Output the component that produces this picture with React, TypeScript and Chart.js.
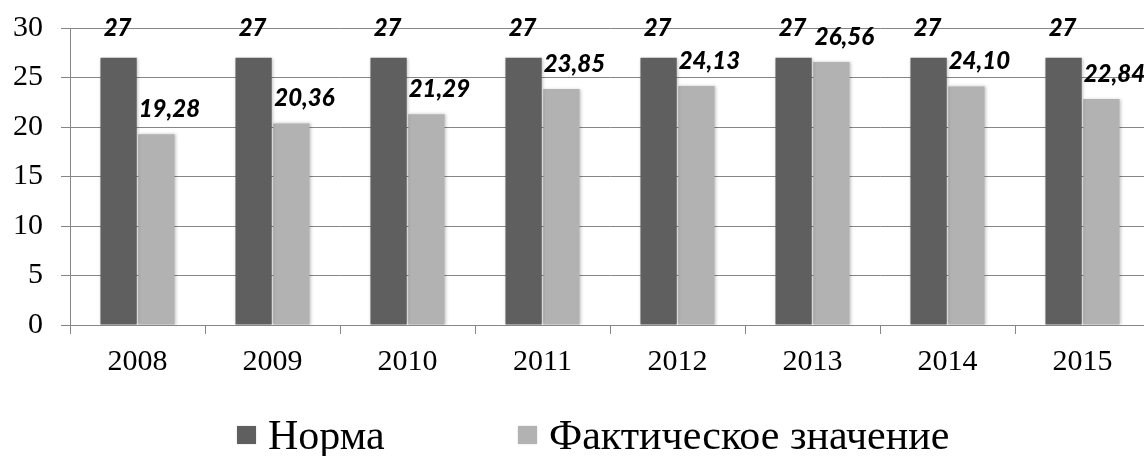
import React, { useEffect, useRef } from "react";
import { Chart, registerables } from "chart.js";

Chart.register(...registerables);

const categories = ["2008", "2009", "2010", "2011", "2012", "2013", "2014", "2015"];
const normaValues = [27, 27, 27, 27, 27, 27, 27, 27];
const factValues = [19.28, 20.36, 21.29, 23.85, 24.13, 26.56, 24.1, 22.84];
const normaLabels = ["27", "27", "27", "27", "27", "27", "27", "27"];
const factLabels = ["19,28", "20,36", "21,29", "23,85", "24,13", "26,56", "24,10", "22,84"];
const seriesNames = ["Норма", "Фактическое значение"];
const seriesColors = ["#5f5f5f", "#b2b2b2"];

const SERIF = "'Times New Roman', 'Liberation Serif', serif";
const AXIS_COLOR = "#868686";

const shadowPlugin = {
  id: "barShadow",
  beforeDatasetsDraw(chart: any) {
    const ctx = chart.ctx;
    ctx.save();
    ctx.shadowColor = "rgba(0,0,0,0.22)";
    ctx.shadowBlur = 3;
    ctx.shadowOffsetX = 1;
    ctx.shadowOffsetY = 0;
  },
  afterDatasetsDraw(chart: any) {
    chart.ctx.restore();
  },
};

const labelPlugin = {
  id: "valueLabels",
  afterDatasetsDraw(chart: any) {
    const ctx = chart.ctx;
    const labelSets = [normaLabels, factLabels];
    const offsets = [
      { dx: -1, dy: -29 },
      { dx: 13, dy: -25 },
    ];
    ctx.save();
    ctx.font = "italic 900 24px Lato, 'DejaVu Sans', sans-serif";
    ctx.fillStyle = "#000000";
    ctx.textAlign = "center";
    ctx.textBaseline = "middle";
    labelSets.forEach((labels, di) => {
      const meta = chart.getDatasetMeta(di);
      meta.data.forEach((el: any, i: number) => {
        ctx.fillText(labels[i], el.x + offsets[di].dx, el.y + offsets[di].dy);
      });
    });
    ctx.restore();
  },
};

export default function App() {
  const canvasRef = useRef<HTMLCanvasElement | null>(null);

  useEffect(() => {
    if (!canvasRef.current) return;
    const chart = new Chart(canvasRef.current, {
      type: "bar",
      data: {
        labels: categories,
        datasets: [
          {
            label: seriesNames[0],
            data: normaValues,
            backgroundColor: seriesColors[0],
            categoryPercentage: 0.56,
            barPercentage: 0.96,
          },
          {
            label: seriesNames[1],
            data: factValues,
            backgroundColor: seriesColors[1],
            categoryPercentage: 0.56,
            barPercentage: 0.96,
          },
        ],
      },
      options: {
        responsive: false,
        maintainAspectRatio: false,
        animation: false,
        layout: { padding: { top: 28, right: 10, left: 0, bottom: 0 } },
        plugins: {
          legend: { display: false },
          tooltip: { enabled: false },
        },
        scales: {
          x: {
            afterFit: (scale: any) => {
              scale.height = 131;
              scale.paddingLeft = 0;
              scale.paddingRight = 0;
            },
            grid: {
              display: true,
              offset: true,
              drawOnChartArea: false,
              drawTicks: true,
              tickLength: 9,
              color: AXIS_COLOR,
              lineWidth: 1,
            },
            border: { display: true, color: AXIS_COLOR, width: 1 },
            ticks: {
              color: "#000000",
              font: { family: SERIF, size: 30 },
              padding: 10,
              maxRotation: 0,
            },
          },
          y: {
            min: 0,
            max: 30,
            afterFit: (scale: any) => {
              scale.width = 70;
              scale.paddingTop = 0;
              scale.paddingBottom = 0;
            },
            grid: {
              color: AXIS_COLOR,
              lineWidth: 1,
              drawTicks: true,
              tickLength: 9,
            },
            border: { display: true, color: AXIS_COLOR, width: 1 },
            ticks: {
              stepSize: 5,
              color: "#000000",
              font: { family: SERIF, size: 30 },
              padding: 18,
            },
          },
        },
      },
      plugins: [shadowPlugin, labelPlugin],
    });
    return () => chart.destroy();
  }, []);

  const legendText: React.CSSProperties = {
    fontFamily: SERIF,
    fontSize: 42,
    color: "#000",
    lineHeight: "42px",
    whiteSpace: "nowrap",
  };
  const box = (c: string): React.CSSProperties => ({
    width: 19,
    height: 18,
    background: c,
    display: "inline-block",
    marginRight: 12,
    boxShadow: "0 0 2px rgba(0,0,0,0.15)",
  });

  return (
    <div
      style={{
        position: "fixed",
        left: 0,
        top: 0,
        width: 1144,
        height: 456,
        overflow: "hidden",
        background: "#fff",
      }}
    >
      <canvas
        ref={canvasRef}
        width={1160}
        height={456}
        style={{ display: "block", width: 1160, height: 456 }}
      />
      <div style={{ position: "absolute", left: 237, top: 414, display: "flex", alignItems: "center" }}>
        <span style={box(seriesColors[0])} />
        <span style={legendText}>{seriesNames[0]}</span>
      </div>
      <div style={{ position: "absolute", left: 518, top: 414, display: "flex", alignItems: "center" }}>
        <span style={box(seriesColors[1])} />
        <span style={legendText}>{seriesNames[1]}</span>
      </div>
    </div>
  );
}
